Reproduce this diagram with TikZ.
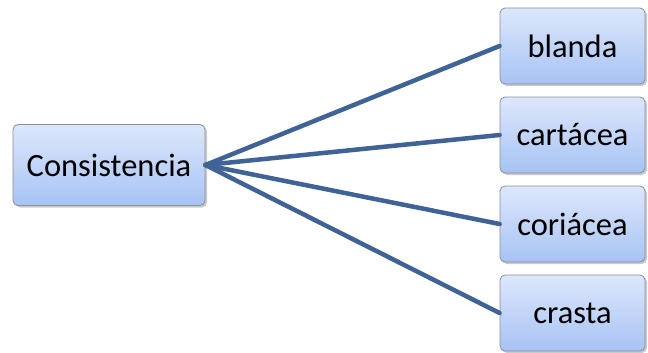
\documentclass[tikz,border=0pt]{standalone}
\usepackage{fontspec}
\setmainfont{Carlito}
\usetikzlibrary{shadows}
\definecolor{boxtop}{HTML}{DDE7FB}
\definecolor{boxbot}{HTML}{A7C3F4}
\definecolor{boxline}{HTML}{8A8F98}
\definecolor{linkc}{HTML}{3F6397}
\begin{document}
\begin{tikzpicture}[x=1pt,y=-1pt,
  cbox/.style={draw=boxline, line width=0.8pt, rounded corners=5pt,
    top color=boxtop, bottom color=boxbot, inner sep=0pt,
    font=\fontsize{32.5}{38}\selectfont,
    drop shadow={shadow xshift=2pt, shadow yshift=-2pt, opacity=0.35, fill=black!60}},
  link/.style={draw=linkc, line width=4.5pt, line cap=round}]
\useasboundingbox (0,0) rectangle (648,353);
\node[cbox, minimum width=192pt, minimum height=81pt] (c) at (109,165) {Consistencia};
\node[cbox, minimum width=145pt, minimum height=76pt] (b1) at (572.5,46) {blanda};
\node[cbox, minimum width=145pt, minimum height=76pt] (b2) at (572.5,135) {cartácea};
\node[cbox, minimum width=145pt, minimum height=76pt] (b3) at (572.5,224) {coriácea};
\node[cbox, minimum width=145pt, minimum height=76pt] (b4) at (572.5,313) {crasta};
\foreach \t in {b1,b2,b3,b4}
  \draw[link] (c.east) -- (\t.west);
\end{tikzpicture}
\end{document}
